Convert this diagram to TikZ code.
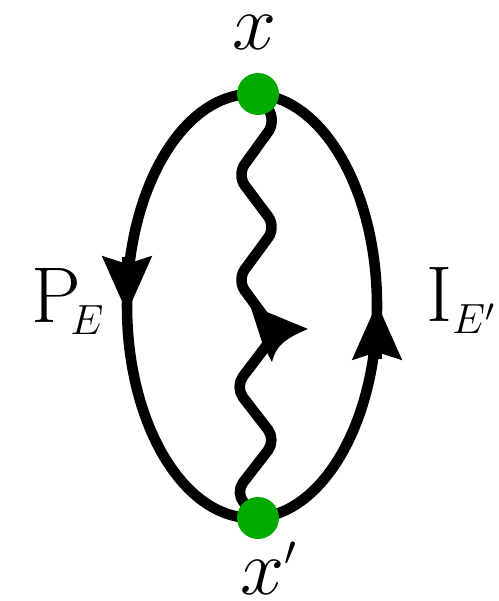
\RequirePackage{fix-cm}
\documentclass[tikz,border=0pt]{standalone}
\usepackage{amsmath, amssymb}
\usepackage{tikz}
\usetikzlibrary{arrows.meta}
\definecolor{dotGreen}{RGB}{0, 170, 0}
\DeclareMathSizes{22.5}{22.5}{12}{9}

\begin{document}
\begin{tikzpicture}[
    line width=3pt,
    photon/.style={rounded corners=0.13cm, line join=round},
    headarrow/.style={-{Stealth[length=0.56cm, width=0.48cm, inset=0.07cm]}},
    vertex/.style={circle, fill=dotGreen, minimum size=0.42cm, inner sep=0pt},
    lab/.style={inner sep=0pt, font=\fontsize{22.5}{27}\selectfont}
  ]
  \useasboundingbox (0,0) rectangle (4.98,6.01);
  \coordinate (vx) at (2.58,5.07);
  \coordinate (vxp) at (2.58,0.83);
  \coordinate (etop) at (2.52,5.07);
  \coordinate (ebot) at (2.52,0.83);
  % loop: left half down, right half up
  \draw (etop) arc[start angle=90, end angle=270, x radius=1.25, y radius=2.12];
  \draw (ebot) arc[start angle=-90, end angle=90, x radius=1.25, y radius=2.12];
  \draw[headarrow] (1.27,3.44) -- (1.27,2.88);
  \draw[headarrow] (3.77,2.42) -- (3.77,2.98);
  % wavy line between the vertices
  \draw[photon] (vx) -- (2.76,4.80) -- (2.37,4.26) -- (2.76,3.74) -- (2.37,3.21)
    -- (2.76,2.68) -- (2.35,2.14) -- (2.76,1.61) -- (2.35,1.08) -- (vxp);
  % arrow head on the wavy line
  \fill (3.08,2.72) -- (2.50,2.96) -- (2.63,2.56) -- (2.72,2.39)
    .. controls (2.76,2.55) and (2.84,2.62) .. (3.08,2.72) -- cycle;
  % vertices
  \node[vertex] (dotx) at (vx) {};
  \node[vertex] (dotxp) at (vxp) {};
  % labels
  \node[lab, anchor=base] (labx) at (2.54,5.51) {$x$};
  \node[lab, anchor=base west] (labxp) at (2.35,0.07) {$x'$};
  \node[lab, anchor=base west] (labP) at (0.26,2.78) {$\mathrm{P}_{\kern-3pt E}$};
  \node[lab, anchor=base west] (labI) at (4.21,2.79) {$\mathrm{I}_{E'}$};
\end{tikzpicture}
\end{document}
